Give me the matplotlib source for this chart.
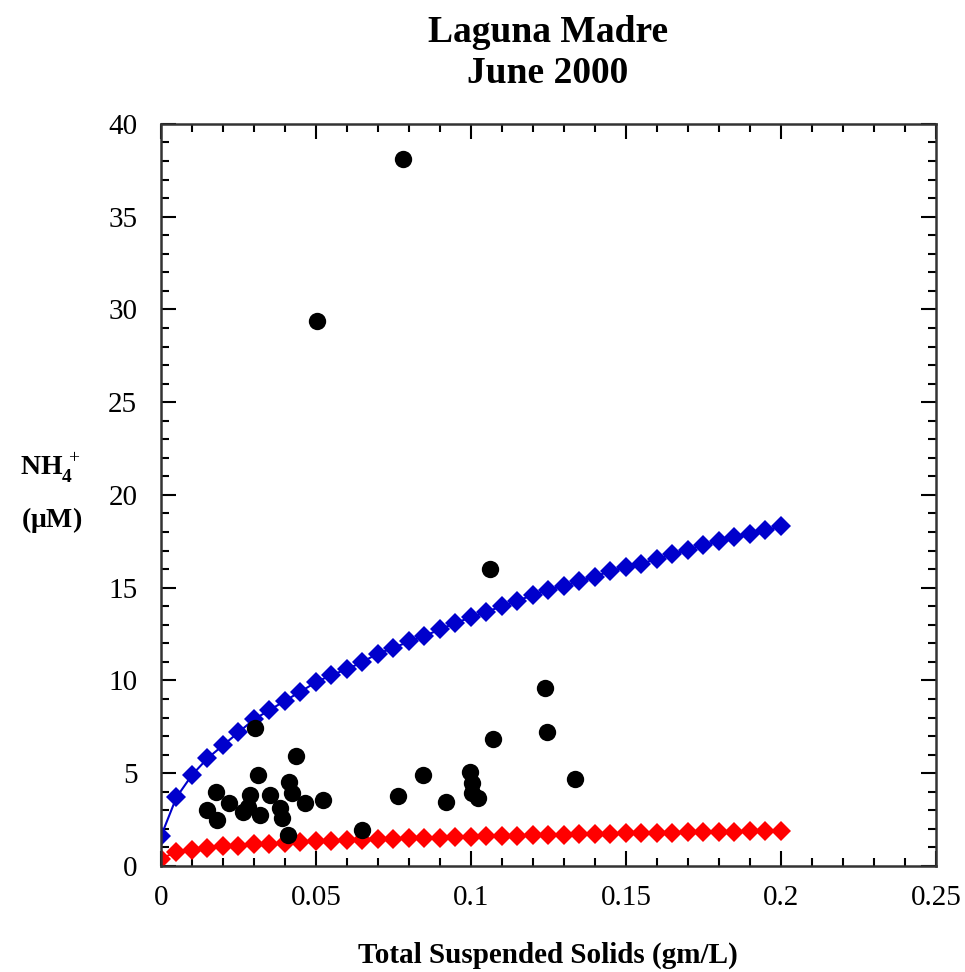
import matplotlib
matplotlib.use('Agg')
import matplotlib.pyplot as plt
from matplotlib.ticker import MultipleLocator

# model curves, x = 0 .. 0.2 in steps of 0.005
curve_x = [i * 0.005 for i in range(41)]
upper_curve = [1.6, 3.7, 4.9, 5.8, 6.5, 7.2, 7.9, 8.4, 8.9, 9.4,
               9.9, 10.3, 10.6, 11.0, 11.45, 11.75, 12.1, 12.4, 12.75, 13.1,
               13.4, 13.7, 14.0, 14.3, 14.6, 14.9, 15.1, 15.35, 15.6, 15.9,
               16.1, 16.3, 16.55, 16.8, 17.05, 17.3, 17.5, 17.75, 17.9, 18.1, 18.3]
lower_curve = [0.4, 0.75, 0.88, 0.98, 1.05, 1.1, 1.16, 1.2, 1.25, 1.29,
               1.32, 1.35, 1.38, 1.41, 1.44, 1.46, 1.49, 1.51, 1.53, 1.55,
               1.57, 1.6, 1.62, 1.63, 1.65, 1.67, 1.69, 1.7, 1.72, 1.74,
               1.75, 1.77, 1.78, 1.8, 1.81, 1.83, 1.84, 1.85, 1.87, 1.88, 1.89]

# observations
tss = [0.078, 0.0503, 0.1061, 0.1239, 0.1246, 0.1072, 0.0302, 0.0435,
       0.0314, 0.0414, 0.0177, 0.022, 0.0287, 0.0352, 0.0422, 0.0524,
       0.0465, 0.0147, 0.018, 0.0266, 0.0319, 0.0384, 0.0389, 0.0282,
       0.0411, 0.0647, 0.0844, 0.0765, 0.0919, 0.0997, 0.1002, 0.1002,
       0.1024, 0.1337]
nh4 = [38.13, 29.4, 16.03, 9.57, 7.23, 6.87, 7.45, 5.92,
       4.9, 4.54, 4.0, 3.37, 3.82, 3.82, 3.91, 3.55,
       3.37, 3.0, 2.48, 2.92, 2.75, 3.1, 2.57, 3.2,
       1.67, 1.94, 4.9, 3.77, 3.46, 5.08, 4.45, 3.91,
       3.69, 4.70]

x_ticks = [0, 0.05, 0.1, 0.15, 0.2, 0.25]
x_labels = ['0', '0.05', '0.1', '0.15', '0.2', '0.25']
y_ticks = [0, 5, 10, 15, 20, 25, 30, 35, 40]

plt.rcParams['font.family'] = ['Liberation Serif', 'DejaVu Serif']
plt.rcParams['mathtext.fontset'] = 'custom'
plt.rcParams['mathtext.rm'] = 'Liberation Serif'
plt.rcParams['mathtext.bf'] = 'Liberation Serif:bold'

fig = plt.figure(figsize=(9.65, 9.72), dpi=100)
ax = fig.add_axes([0.1668, 0.1091, 0.8031, 0.7634])

ax.plot(curve_x, upper_curve, color='#0000cc', lw=1.5, marker='D', ms=10,
        markeredgewidth=0)
ax.plot(curve_x, lower_curve, color='#ff0000', lw=1.5, marker='D', ms=10,
        markeredgewidth=0)
ax.plot(tss, nh4, 'o', color='black', ms=12.5, markeredgewidth=0)

ax.set_xlim(0, 0.25)
ax.set_ylim(0, 40)
ax.set_xticks(x_ticks)
ax.set_xticklabels(x_labels)
ax.set_yticks(y_ticks)
ax.xaxis.set_minor_locator(MultipleLocator(0.01))
ax.yaxis.set_minor_locator(MultipleLocator(1))
ax.tick_params(which='both', direction='in', top=True, right=True,
               labelsize=21, width=1.5)
ax.tick_params(which='major', length=11)
ax.tick_params(which='minor', length=6)
ax.tick_params(axis='x', pad=14)
ax.tick_params(axis='y', pad=17)
for s in ax.spines.values():
    s.set_linewidth(1.8)
    s.set_color('#333333')

fig.text(0.568, 0.967, 'Laguna Madre', ha='center', va='center',
         fontsize=27, fontweight='bold')
fig.text(0.568, 0.924, 'June 2000', ha='center', va='center',
         fontsize=27, fontweight='bold')
fig.text(0.568, 0.017, 'Total Suspended Solids (gm/L)', ha='center',
         va='center', fontsize=21, fontweight='bold')
fig.text(0.052, 0.519, r'$\mathbf{NH}_{\mathbf{4}}^{\,+}$', ha='center',
         va='center', fontsize=20)
fig.text(0.054, 0.465, r'($\mathbf{\mu}$M)', ha='center', va='center',
         fontsize=20, fontweight='bold')

fig.savefig('out.png', dpi=100)
